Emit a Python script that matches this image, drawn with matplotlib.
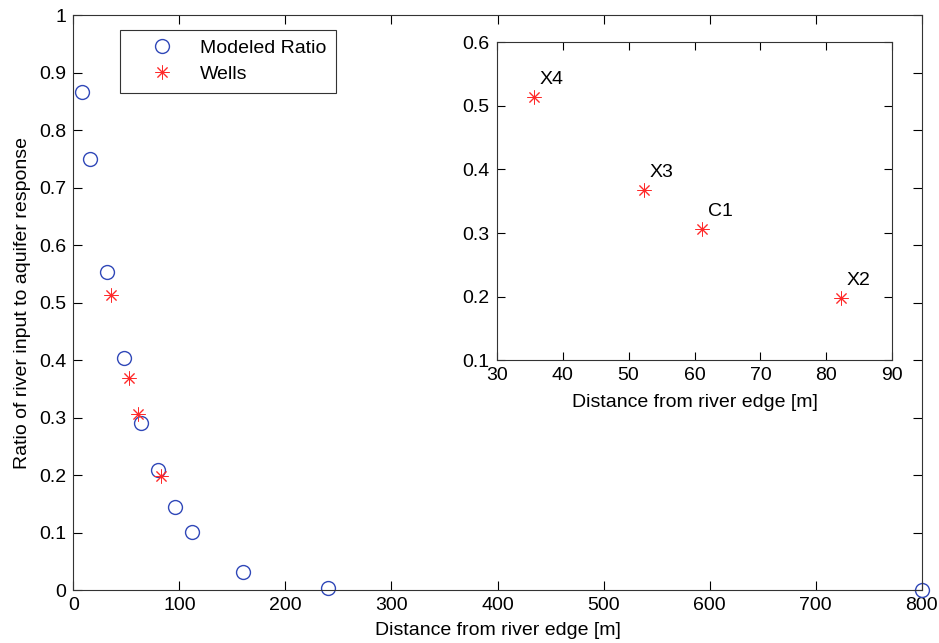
import numpy as np
import matplotlib.pyplot as plt

plt.rcParams['font.family'] = ['Liberation Sans', 'DejaVu Sans']
plt.rcParams['font.size'] = 14

# modelled ratio vs distance
dist_model = [8, 16, 32, 48, 64, 80, 96, 112, 160, 240, 800]
ratio_model = [0.866, 0.749, 0.553, 0.403, 0.291, 0.208, 0.145, 0.101, 0.032, 0.004, 0.0]

# observation wells
well_names = ['X4', 'X3', 'C1', 'X2']
dist_wells = [35.7, 52.4, 61.2, 82.2]
ratio_wells = [0.514, 0.368, 0.307, 0.198]

blue = '#3048b8'
red = '#ff2a2a'
star = (8, 2, 0)

fig = plt.figure(figsize=(9.39, 6.43), dpi=100)
ax = fig.add_axes([0.0781, 0.0824, 0.9035, 0.894])
ax.plot(dist_model, ratio_model, 'o', ms=10, mfc='none', mec=blue, mew=1.0,
        label='Modeled Ratio', clip_on=False)
ax.plot(dist_wells, ratio_wells, ls='none', marker=star, ms=10, mec=red, mew=0.7,
        label='Wells')
ax.set_xlim(0, 800)
ax.set_ylim(0, 1)
ax.set_xticks(np.arange(0, 801, 100))
ax.set_yticks(np.arange(0, 1.01, 0.1))
ax.set_yticklabels(['0', '0.1', '0.2', '0.3', '0.4', '0.5', '0.6', '0.7', '0.8', '0.9', '1'])
ax.set_xlabel('Distance from river edge [m]', labelpad=6)
ax.set_ylabel('Ratio of river input to aquifer response', labelpad=6)
ax.tick_params(direction='in', length=6.5, top=True, right=True, width=0.8, pad=5)
for s in ax.spines.values():
    s.set_color('#333333')
leg = ax.legend(loc='upper left', bbox_to_anchor=(0.0555, 0.975), fancybox=False,
                edgecolor='#333333', framealpha=1, borderpad=0.5, borderaxespad=0,
                handletextpad=0.3, handlelength=3.3, labelspacing=0.45)
leg.get_frame().set_linewidth(0.8)

ins = fig.add_axes([0.529, 0.440, 0.4213, 0.494])
ins.plot(dist_wells, ratio_wells, ls='none', marker=star, ms=10, mec=red, mew=0.7)
for n, x, y in zip(well_names, dist_wells, ratio_wells):
    ins.text(x + 0.8, y + 0.02, n, va='baseline', ha='left')
ins.set_xlim(30, 90)
ins.set_ylim(0.1, 0.6)
ins.set_xticks(np.arange(30, 91, 10))
ins.set_yticks([0.1, 0.2, 0.3, 0.4, 0.5, 0.6])
ins.set_xlabel('Distance from river edge [m]', labelpad=7)
ins.tick_params(direction='in', length=6, top=True, right=True, width=0.8, pad=5)
for s in ins.spines.values():
    s.set_color('#333333')

fig.savefig('out.png', dpi=100)
